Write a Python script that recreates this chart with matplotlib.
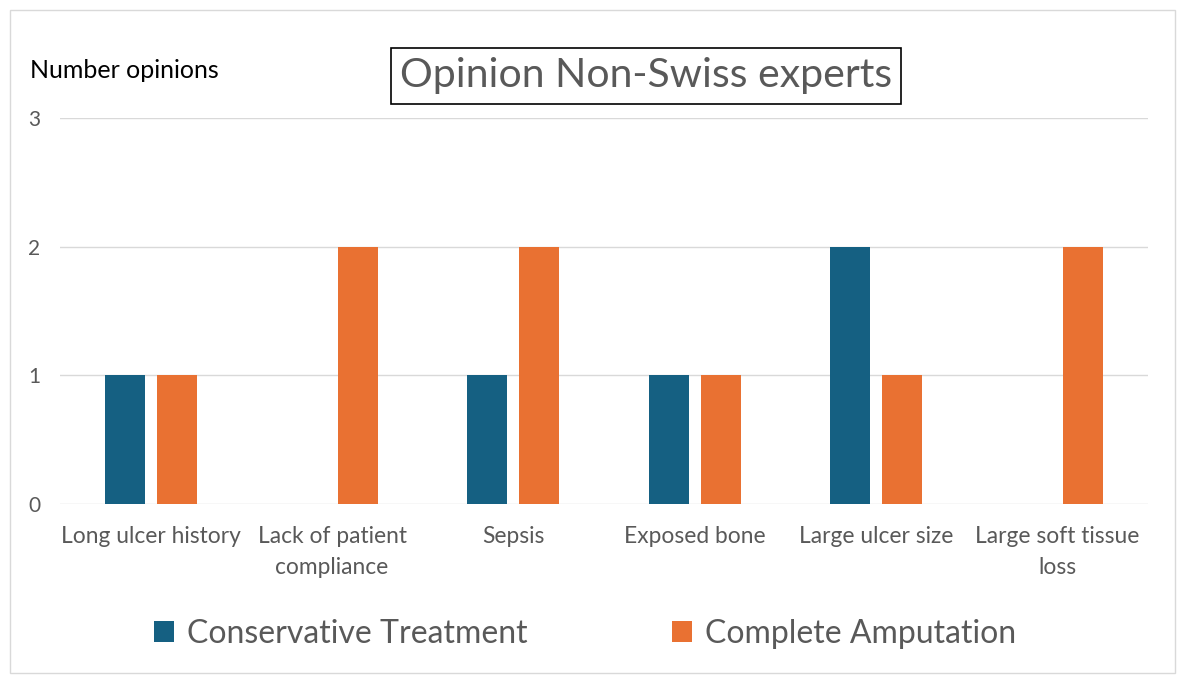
import matplotlib
matplotlib.use('Agg')
import matplotlib.pyplot as plt
from matplotlib.patches import Rectangle
import numpy as np

plt.rcParams['font.family'] = ['Lato', 'DejaVu Sans']

categories = ['Long ulcer history', 'Lack of patient\ncompliance', 'Sepsis',
              'Exposed bone', 'Large ulcer size', 'Large soft tissue\nloss']
conservative = [1, 0, 1, 1, 2, 0]
amputation = [1, 2, 2, 1, 1, 2]
series_names = ['Conservative Treatment', 'Complete Amputation']
yticks = [0, 1, 2, 3]

BLUE = '#156082'
ORANGE = '#E97132'
GREY = '#595959'

W, H = 1186, 683
fig = plt.figure(figsize=(W / 100, H / 100), dpi=100)
# outer frame
fig.patches.append(Rectangle((10 / W, 10 / H), 1165 / W, 663 / H, transform=fig.transFigure,
                             fill=False, edgecolor='#d9d9d9', linewidth=1))

ax = fig.add_axes([60 / W, 1 - 504 / H, (1148 - 60) / W, (504 - 118) / H])
x = np.arange(len(categories))
bw = 0.22
ax.bar(x - 0.143, conservative, bw, color=BLUE, label=series_names[0])
ax.bar(x + 0.143, amputation, bw, color=ORANGE, label=series_names[1])

ax.set_xlim(-0.5, len(categories) - 0.5)
ax.set_ylim(0, 3)
ax.set_yticks(yticks)
ax.set_yticklabels([str(t) for t in yticks], color=GREY, fontsize=15)
ax.set_xticks(x)
ax.set_xticklabels(categories, color=GREY, fontsize=16.4, linespacing=1.55)
ax.tick_params(axis='x', length=0, pad=16)
for t in ax.get_yticklabels():
    t.set_horizontalalignment('left')
ax.tick_params(axis='y', length=0, pad=23)
ax.grid(axis='y', color='#d9d9d9', linewidth=1)
ax.set_axisbelow(True)
for s in ax.spines.values():
    s.set_visible(False)

fig.text(30 / W, 1 - 70 / H, 'Number opinions', fontsize=18, color='black', va='center', ha='left')
fig.text(646 / W, 1 - 76 / H, 'Opinion Non-Swiss experts', fontsize=29.5, color=GREY,
         ha='center', va='center',
         bbox=dict(boxstyle='square,pad=0.22', facecolor='white', edgecolor='black', linewidth=1.2))

fig.legend(loc='center', bbox_to_anchor=(585 / W, 1 - 634 / H), ncol=2, frameon=False,
           fontsize=23, labelcolor=GREY, handlelength=0.65, handleheight=0.65,
           handletextpad=0.4, columnspacing=4.5)

fig.savefig('out.png', dpi=100, facecolor='white')
